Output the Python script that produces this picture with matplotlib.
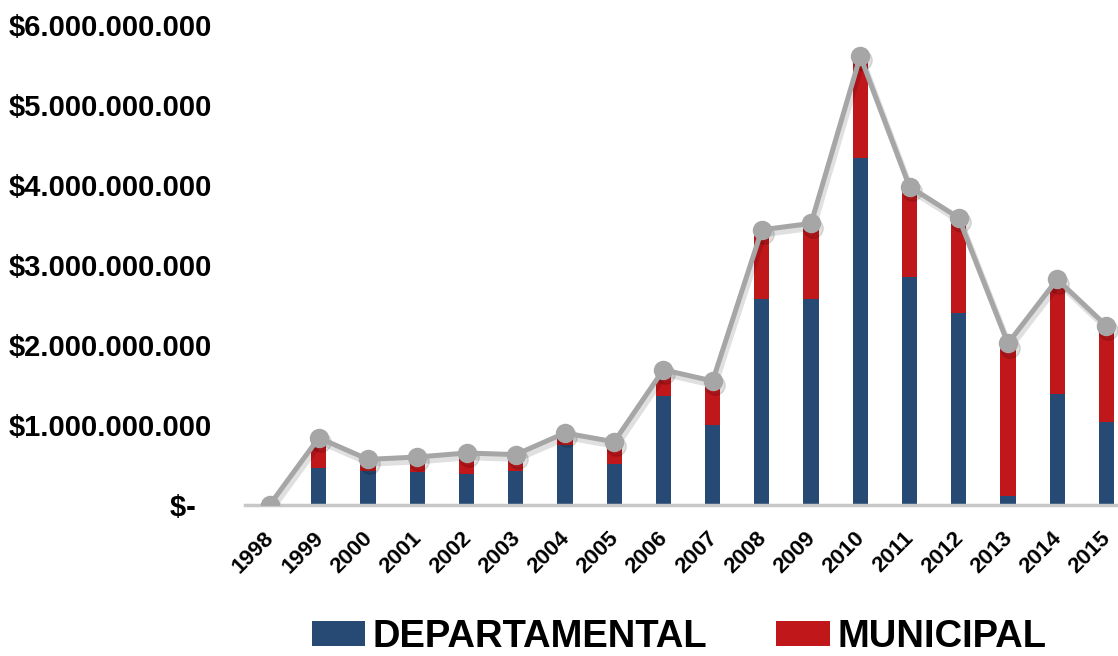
import matplotlib
matplotlib.use("Agg")
import matplotlib.pyplot as plt
import matplotlib.transforms as mtransforms
import numpy as np

plt.rcParams['font.family'] = ['Liberation Sans', 'DejaVu Sans']

years = ['1998', '1999', '2000', '2001', '2002', '2003', '2004', '2005', '2006',
         '2007', '2008', '2009', '2010', '2011', '2012', '2013', '2014', '2015']
# values in pesos (billions)
departamental = [0.00, 0.46, 0.42, 0.41, 0.39, 0.43, 0.75, 0.51, 1.36,
                 1.00, 2.57, 2.57, 4.34, 2.85, 2.40, 0.11, 1.39, 1.04]
total = [0.00, 0.84, 0.57, 0.60, 0.65, 0.63, 0.90, 0.79, 1.69,
         1.55, 3.44, 3.52, 5.61, 3.98, 3.59, 2.02, 2.82, 2.24]
departamental = np.array(departamental) * 1e9
total = np.array(total) * 1e9
municipal = total - departamental

ytick_vals = [0, 1e9, 2e9, 3e9, 4e9, 5e9, 6e9]
ytick_labels = ['$-  ', '$1.000.000.000', '$2.000.000.000', '$3.000.000.000',
                '$4.000.000.000', '$5.000.000.000', '$6.000.000.000']

blue = '#264A73'
red = '#C0171B'
gray = '#A6A6A6'

fig = plt.figure(figsize=(11.18, 6.56), dpi=100)
ax = fig.add_axes([245 / 1118, 151 / 656, 873 / 1118, 480 / 656])

x = np.arange(len(years))
ax.bar(x, departamental, width=0.31, color=blue, label='DEPARTAMENTAL', zorder=2)
ax.bar(x, municipal, width=0.31, bottom=departamental, color=red, label='MUNICIPAL', zorder=2)

# soft shadow under the total line
shadow = mtransforms.offset_copy(ax.transData, fig=fig, x=1.5, y=-3, units='points')
ax.plot(x, total, color='black', alpha=0.12, lw=4.5, marker='o', ms=14,
        transform=shadow, zorder=2.5)
ax.plot(x, total, color=gray, lw=3.6, marker='o', ms=13, zorder=3)

ax.set_xlim(-0.5, (1118 - 270) / 49.2)
ax.set_ylim(0, 6e9)

for s in ['top', 'right', 'left']:
    ax.spines[s].set_visible(False)
ax.spines['bottom'].set_color('#C8C8C8')
ax.spines['bottom'].set_linewidth(2.5)

ax.set_yticks(ytick_vals)
ax.set_yticklabels(ytick_labels, fontsize=21, fontweight='bold')
ax.tick_params(axis='y', length=0, pad=24)

ax.set_xticks(x)
ax.set_xticklabels(years, fontsize=16, fontweight='bold', rotation=45,
                   ha='right', va='top', rotation_mode='anchor')
ax.tick_params(axis='x', length=0, pad=16)
shift = mtransforms.ScaledTranslation(-6 / 100, 0, fig.dpi_scale_trans)
for lbl in ax.get_xticklabels():
    lbl.set_transform(lbl.get_transform() + shift)

fig.legend(loc='center', bbox_to_anchor=(679 / 1118, 19 / 656), ncol=2, frameon=False,
           prop={'size': 27.5, 'weight': 'bold'}, handlelength=1.4, handleheight=0.6,
           handletextpad=0.2, columnspacing=1.8, borderpad=0)

fig.savefig('out.png', dpi=100)
